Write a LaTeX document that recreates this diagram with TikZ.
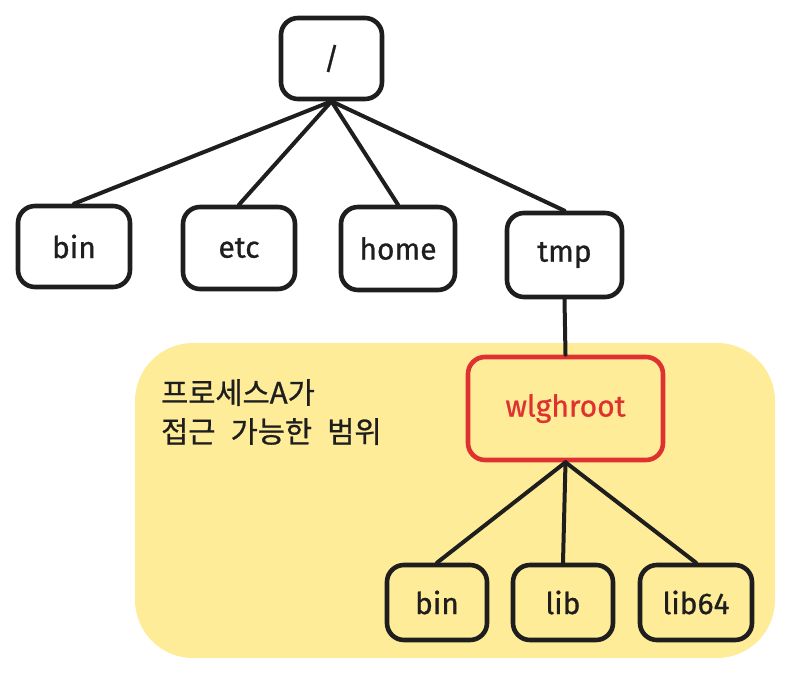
\documentclass[tikz,border=0pt]{standalone}
\usepackage{fontspec}
\setmainfont{Fira Sans}[FakeBold=0.8]
\newfontfamily\krfont[WordSpace=2.3,FakeBold=0.8]{Noto Sans CJK KR}
\definecolor{ink}{HTML}{1E1E1E}
\definecolor{redink}{HTML}{E03131}
\definecolor{areafill}{HTML}{FFEC99}
\begin{document}
\begin{tikzpicture}[x=1pt,y=-1pt,
  box/.style={draw=ink, line width=4.6pt, rounded corners=17pt, inner sep=0pt,
    font=\fontsize{30}{36}\selectfont, text=ink},
  redbox/.style={box, draw=redink, text=redink},
  conn/.style={draw=ink, line width=4pt, line cap=round},
  area/.style={fill=areafill, rounded corners=58pt, inner sep=0pt},
  note/.style={font=\krfont\fontsize{29.5}{39}\selectfont, text=ink, align=left, inner sep=0pt}
]
\useasboundingbox (0,0) rectangle (793,677);

% accessible region
\node[area, minimum width=640pt, minimum height=315pt] (region) at (455,500.5) {};
\node[note, anchor=north west] (label) at (161,379) {프로세스A가\\접근 가능한 범위};

% top level tree
\node[box, minimum width=101pt, minimum height=81pt] (root) at (331.5,58.5) {/};
\node[box, minimum width=112pt, minimum height=81pt] (bin) at (74,246.5) {bin};
\node[box, minimum width=112pt, minimum height=82pt] (etc) at (239,248) {etc};
\node[box, minimum width=114pt, minimum height=83pt] (home) at (398,248.5) {home};
\node[box, minimum width=115pt, minimum height=84pt] (tmp) at (564.5,255) {tmp};

% chroot subtree
\node[redbox, minimum width=195pt, minimum height=103pt] (chroot) at (565.5,408.5) {wlghroot};
\node[box, minimum width=100pt, minimum height=75pt] (cbin) at (437,602.5) {bin};
\node[box, minimum width=100pt, minimum height=75pt] (clib) at (563,602.5) {lib};
\node[box, minimum width=112pt, minimum height=75pt] (clib64) at (696,602.5) {lib64};

% connectors
\draw[conn] (root.south) -- (bin.north);
\draw[conn] (root.south) -- (etc.north);
\draw[conn] (root.south) -- (home.north);
\draw[conn] (root.south) -- (tmp.north);
\draw[conn] (tmp.south) -- (chroot.north);
\draw[conn] (chroot.south) -- (cbin.north);
\draw[conn] (chroot.south) -- (clib.north);
\draw[conn] (chroot.south) -- (clib64.north);
\end{tikzpicture}
\end{document}
